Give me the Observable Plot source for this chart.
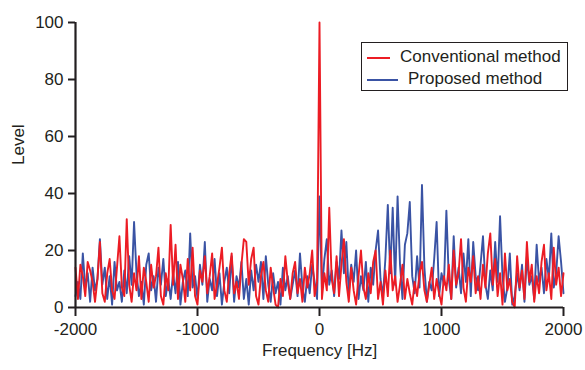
<!DOCTYPE html>
<html><head><meta charset="utf-8">
<script src="https://cdn.jsdelivr.net/npm/d3@7"></script>
<script src="https://cdn.jsdelivr.net/npm/@observablehq/plot@0.6"></script>
<style>
body{margin:0;background:#fff;font-family:"Liberation Sans",Arial,sans-serif;}
#wrap{position:relative;width:585px;height:370px;}
#legend{position:absolute;left:361px;top:42px;width:205px;height:47px;border:1px solid #231f20;background:#fff;font-size:17px;color:#231f20;}
#legend .item{position:absolute;left:0;height:20px;line-height:20px;white-space:nowrap;}
#legend .sw{position:absolute;top:10px;height:0;border-top:2px solid;}
#legend .lb{position:absolute;top:0;}
</style></head>
<body><div id="wrap"></div>
<script>
const freqStart = -2000, freqStep = 20, freqEnd = 2000;
const xTicks = [-2000, -1000, 0, 1000, 2000];
const yTicks = [0, 20, 40, 60, 80, 100];
const seriesNames = ["Conventional method", "Proposed method"];
const seriesColors = ["#ec1c24", "#3a53a4"];

const conventional = [
 14,3,15,11,4,16,13,9,2,10,
 23,5,2,12,17,6,3,14,25,7,
 4,31,8,2,12,6,18,3,14,9,
 2,15,7,11,21,4,1,12,6,29,
 8,22,3,15,10,2,17,6,21,4,
 1,13,9,18,5,11,19,3,8,14,
 21,6,2,12,19,5,9,3,15,24,
 23,8,17,21,4,1,11,16,6,2,
 14,7,1,0,10,4,18,9,3,12,
 16,5,10,2,14,7,12,20,4,9,
 100,3,12,6,35,10,5,18,4,15,
 24,9,2,14,6,1,11,20,7,3,
 12,5,16,20,3,9,1,13,4,20,
 6,11,2,8,15,3,10,5,1,9,
 4,12,16,6,2,8,14,3,10,5,
 1,11,6,15,3,20,8,12,24,7,
 2,14,9,18,5,11,3,15,7,19,
 26,8,17,4,12,1,19,6,10,2,
 0,18,7,13,3,23,9,15,2,11,
 5,16,22,6,12,3,21,8,14,4,
 12
];
const proposed = [
 4,9,3,19,7,12,2,14,6,10,
 24,8,14,3,11,1,16,6,9,2,
 13,5,18,8,30,12,4,9,1,15,
 19,6,11,2,14,8,17,4,10,3,
 12,5,16,1,9,13,4,26,7,11,
 3,15,8,23,2,10,6,17,4,12,
 1,9,14,5,18,2,11,7,16,3,
 10,1,13,6,15,9,16,3,18,8,
 2,12,5,9,1,14,6,11,3,8,
 13,4,19,7,2,11,5,15,9,3,
 39,6,17,24,8,13,4,16,10,27,
 12,23,5,15,9,20,3,11,6,16,
 2,14,8,20,27,10,4,17,36,12,
 35,8,39,15,3,22,26,37,11,5,
 18,7,43,14,2,9,6,17,30,4,
 12,8,34,10,3,25,7,14,5,19,
 9,24,4,23,11,6,15,25,8,3,
 13,6,23,9,32,11,2,7,19,1,
 4,12,6,15,2,18,8,11,3,22,
 9,14,5,17,10,26,7,12,25,16,
 5
];

const freq = d3.range(freqStart, freqEnd + freqStep / 2, freqStep);
const data = freq.map((f, i) => ({f, conv: conventional[i], prop: proposed[i]}));
const ink = "#231f20";

const chart = Plot.plot({
  width: 585, height: 370,
  marginLeft: 75, marginRight: 22, marginTop: 22, marginBottom: 63,
  x: {domain: [freqStart, freqEnd]},
  y: {domain: [0, 100]},
  style: {fontFamily: "'Liberation Sans', Arial, sans-serif", fontSize: "17px", color: ink, background: "#fff"},
  marks: [
    Plot.lineY(data, {x: "f", y: "prop", stroke: seriesColors[1], strokeWidth: 1.9}),
    Plot.lineY(data, {x: "f", y: "conv", stroke: seriesColors[0], strokeWidth: 1.9}),
    Plot.axisX({ticks: xTicks, tickSize: 9, tickPadding: 6, tickFormat: d => String(d), label: null, fontSize: 17, strokeWidth: 2}),
    Plot.axisY({ticks: yTicks, tickSize: 7, tickPadding: 5, tickFormat: d => String(d), label: null, fontSize: 17, strokeWidth: 2}),
    Plot.ruleX([freqStart], {stroke: ink, strokeWidth: 2.2}),
    Plot.ruleY([0], {stroke: ink, strokeWidth: 2.2}),
    Plot.text(["Level"], {frameAnchor: "left", dx: -57, rotate: -90, fontSize: 17, fill: ink}),
    Plot.text(["Frequency [Hz]"], {frameAnchor: "bottom", dy: 48, fontSize: 17, fill: ink})
  ]
});
const wrap = document.getElementById("wrap");
wrap.appendChild(chart);

const legend = document.createElement("div");
legend.id = "legend";
const items = [
  {name: seriesNames[0], color: seriesColors[0], top: 4, swW: 23, lbX: 38},
  {name: seriesNames[1], color: seriesColors[1], top: 26, swW: 31, lbX: 46}
];
for (const it of items) {
  const d = document.createElement("div");
  d.className = "item";
  d.style.top = it.top + "px";
  d.style.width = "205px";
  const sw = document.createElement("div");
  sw.className = "sw";
  sw.style.left = "5px";
  sw.style.width = it.swW + "px";
  sw.style.borderColor = it.color;
  const lb = document.createElement("div");
  lb.className = "lb";
  lb.style.left = it.lbX + "px";
  lb.textContent = it.name;
  d.appendChild(sw); d.appendChild(lb);
  legend.appendChild(d);
}
wrap.appendChild(legend);
</script>
</body></html>
